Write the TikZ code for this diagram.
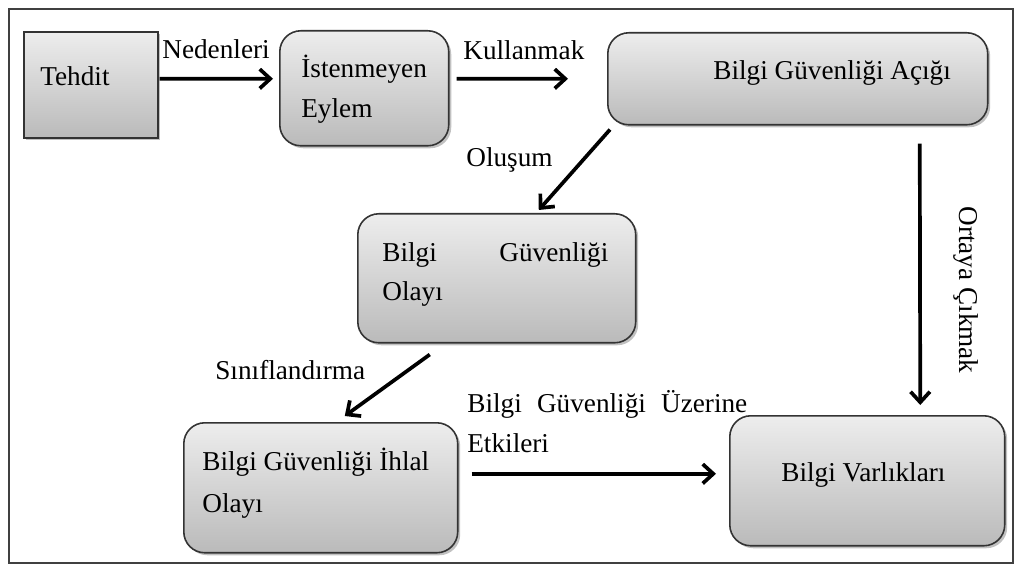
\documentclass[tikz,border=0pt]{standalone}
\usepackage{fontspec}
\setmainfont{Liberation Serif}
\usetikzlibrary{arrows.meta,calc,shadows}

\tikzset{
  px/.style={x=0.02cm,y=-0.02cm},
  card/.style={draw=black!80,line width=0.9pt,top color=black!7,bottom color=black!27,
    drop shadow={shadow xshift=0.05cm,shadow yshift=-0.05cm,opacity=0.35,fill=black!70},
    inner sep=0pt,anchor=north west},
  roundcard/.style={card,rounded corners=0.42cm},
  txt/.style={font=\fontsize{15.5}{18}\selectfont,inner sep=0pt,anchor=base west,text=black},
  flow/.style={line width=2.1pt,-{Straight Barb[length=6pt,width=11pt,line width=2.1pt]}}
}

\begin{document}
\begin{tikzpicture}[px]
\useasboundingbox (0,0) rectangle (1021,564);
\draw[black!75,line width=0.9pt] (9,9) rectangle (1013,563);

% boxes
\node[card,minimum width=2.68cm,minimum height=2.12cm] (tehdit) at (23,31) {};
\node[roundcard,minimum width=3.38cm,minimum height=2.30cm] (eylem) at (279,30) {};
\node[roundcard,minimum width=7.60cm,minimum height=1.84cm] (acik) at (607,32) {};
\node[roundcard,minimum width=5.56cm,minimum height=2.58cm] (olay) at (357,213) {};
\node[roundcard,minimum width=5.48cm,minimum height=2.60cm] (ihlal) at (183,422) {};
\node[roundcard,minimum width=5.50cm,minimum height=2.60cm] (varlik) at (729,415) {};

% box texts
\node[txt] (t1) at (40,86) {Tehdit};
\node[txt] (t2a) at (301,78) {İstenmeyen};
\node[txt] (t2b) at (301,118) {Eylem};
\node[txt] (t3) at (713,80) {Bilgi Güvenliği Açığı};
\node[txt] (t4a) at (382,262) {\hbox to 4.52cm{Bilgi\hfill Güvenliği}};
\node[txt] (t4b) at (382,300) {Olayı};
\node[txt] (t5a) at (202,470) {Bilgi Güvenliği İhlal};
\node[txt] (t5b) at (202,512) {Olayı};
\node[txt] (t6) at (781,481) {Bilgi Varlıkları};

% connectors
\draw[flow] ($(tehdit.east)+(1,-6)$) -- ($(eylem.west)+(-6,-9.5)$);
\draw[flow] ($(eylem.east)+(7,-9.5)$) -- ($(acik.west)+(-39,0)$);
\draw[flow] ($(acik.south west)+(3,4)$) -- ($(olay.north)+(42,-3)$);
\draw[flow] ($(olay.south)+(-67,11)$) -- ($(ihlal.north)+(24,-6)$);
\draw[flow] ($(acik.south)+(122,18)$) -- ($(varlik.north)+(53,-10)$);
\draw[flow] ($(ihlal.east)+(13,-14)$) -- ($(varlik.west)+(-13,-7)$);

% connector labels
\node[txt] (l1) at (162,59) {Nedenleri};
\node[txt] (l2) at (463,60) {Kullanmak};
\node[txt] (l3) at (466,167) {Oluşum};
\node[txt] (l4) at (215,379) {Sınıflandırma};
\node[txt,anchor=center,rotate=-90] (l5) at (966,290) {Ortaya Çıkmak};
\node[txt] (l6a) at (467,412) {\hbox to 5.6cm{Bilgi\hfill Güvenliği\hfill Üzerine}};
\node[txt] (l6b) at (467,452) {Etkileri};
\end{tikzpicture}
\end{document}
